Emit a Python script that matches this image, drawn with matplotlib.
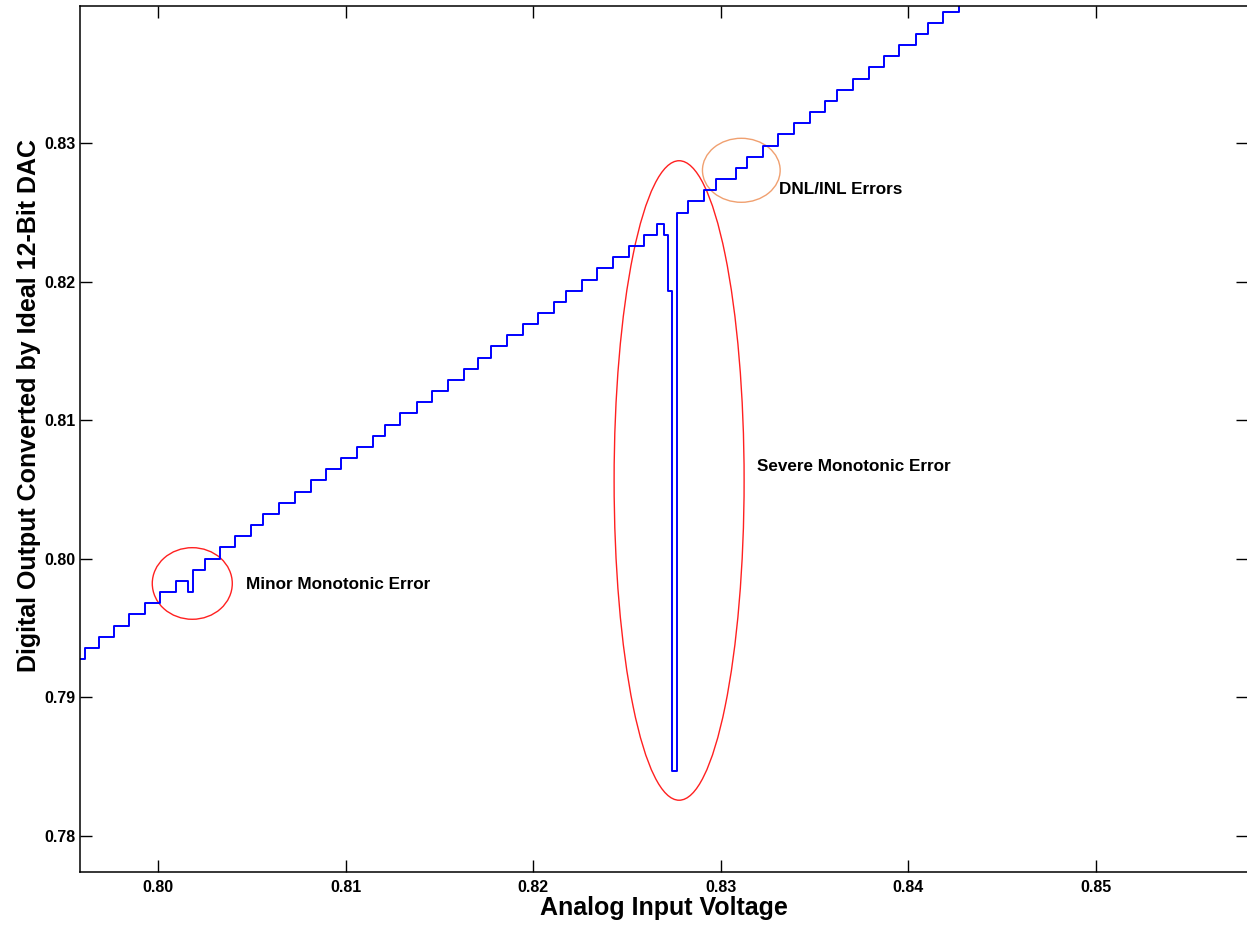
import matplotlib
matplotlib.use("Agg")
import matplotlib.pyplot as plt
from matplotlib.patches import Ellipse
from matplotlib.ticker import FormatStrFormatter

LSB = 3.3 / 4096  # one code of a 12-bit converter with a 3.3 V reference

# Input voltages where the output code changes (first/last entries are the ends of the trace)
edges = [0.79570,
         0.796107, 0.796821, 0.797621, 0.798421, 0.799307, 0.800107, 0.800960,
         0.801584, 0.801851, 0.802475, 0.803275, 0.804107, 0.804960, 0.805600,
         0.806421, 0.807275, 0.808128, 0.808928, 0.809744, 0.810613, 0.811435,
         0.812091, 0.812891, 0.813781, 0.814613, 0.815435, 0.816304, 0.817051,
         0.817744, 0.818581, 0.819435, 0.820267, 0.821120, 0.821728, 0.822613,
         0.823413, 0.824235, 0.825120, 0.825920, 0.826581, 0.826987, 0.827200,
         0.827381, 0.827648, 0.828267, 0.829104, 0.829728, 0.830795, 0.831381,
         0.832235, 0.833067, 0.833904, 0.834757, 0.835557, 0.836181, 0.837035,
         0.837904, 0.838720, 0.839520, 0.840411, 0.841035, 0.841867, 0.842704,
         0.84360]

# Output code held on each interval between consecutive edges
codes = [984,
         985, 986, 987, 988, 989, 990, 991, 990, 992, 993, 994, 995, 996, 997,
         998, 999, 1000, 1001, 1002, 1003, 1004, 1005, 1006, 1007, 1008, 1009,
         1010, 1011, 1012, 1013, 1014, 1015, 1016, 1017, 1018, 1019, 1020, 1021,
         1022, 1023, 1022, 1017, 974, 1024, 1025, 1026, 1027, 1028, 1029, 1030,
         1031, 1032, 1033, 1034, 1035, 1036, 1037, 1038, 1039, 1040, 1041, 1042,
         1043]

x_ticks = [0.80, 0.81, 0.82, 0.83, 0.84, 0.85]
y_ticks = [0.78, 0.79, 0.80, 0.81, 0.82, 0.83]

# Highlighted regions: (centre x, centre y, width, height, colour)
regions = [
    (0.801808, 0.798226, 0.004267, 0.005168, "#ff2020"),
    (0.827771, 0.805661, 0.006933, 0.046160, "#ff2020"),
    (0.831088, 0.828051, 0.004144, 0.004620, "#f0a070"),
]
notes = [
    (0.804677, 0.798118, "Minor Monotonic Error"),
    (0.831931, 0.806635, "Severe Monotonic Error"),
    (0.833104, 0.826629, "DNL/INL Errors"),
]

plt.rcParams["font.family"] = ["Liberation Sans", "DejaVu Sans"]

fig = plt.figure(figsize=(12.47, 9.27), dpi=100)
ax = fig.add_axes([80 / 1247, 55 / 927, 1168 / 1247, 866 / 927])

levels = [c * LSB for c in codes] + [codes[-1] * LSB]
ax.step(edges, levels, where="post", color="#0000ff", lw=1.4)

for cx, cy, w, h, col in regions:
    ax.add_patch(Ellipse((cx, cy), w, h, fill=False, edgecolor=col, lw=1.0))

for x, y, s in notes:
    ax.text(x, y, s, ha="left", va="center", fontsize=12.3, fontweight="bold")

ax.set_xlim(0.79582, 0.85811)
ax.set_ylim(0.77740, 0.83991)
ax.set_xticks(x_ticks)
ax.set_yticks(y_ticks)
ax.xaxis.set_major_formatter(FormatStrFormatter("%.2f"))
ax.yaxis.set_major_formatter(FormatStrFormatter("%.2f"))
ax.tick_params(direction="in", length=8.5, width=1.0, top=True, right=True,
               labelsize=11.5, pad=6)
ax.tick_params(axis="y", pad=3)
for lab in ax.get_xticklabels() + ax.get_yticklabels():
    lab.set_fontweight("bold")
for sp in ax.spines.values():
    sp.set_linewidth(1.1)

ax.set_xlabel("Analog Input Voltage", fontsize=18, fontweight="bold", va="baseline")
ax.xaxis.set_label_coords(0.5, (872 - 915) / 866)
ax.set_ylabel("Digital Output Converted by Ideal 12-Bit DAC", fontsize=18,
              fontweight="bold", va="baseline")
ax.yaxis.set_label_coords((36 - 80) / 1168, (872 - 405.5) / 866)

fig.savefig("out.png", dpi=100)
